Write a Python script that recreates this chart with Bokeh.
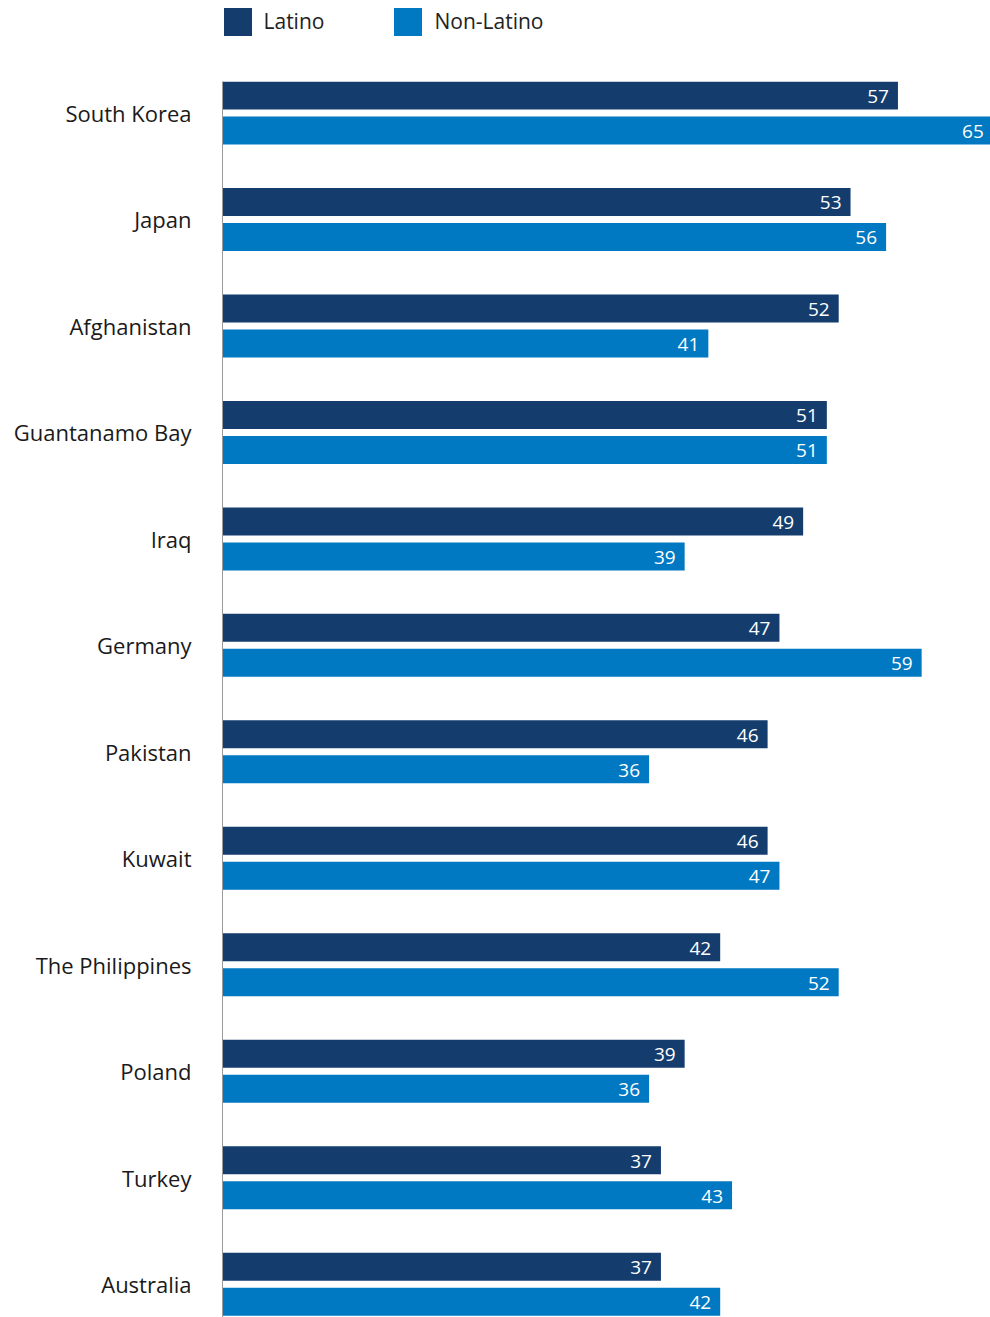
from bokeh.plotting import figure
from bokeh.models import ColumnDataSource, Range1d, Legend, LegendItem
from bokeh.layouts import column
from bokeh.transform import dodge
from bokeh.embed import file_html
from bokeh.resources import INLINE

countries = ["South Korea", "Japan", "Afghanistan", "Guantanamo Bay", "Iraq", "Germany",
             "Pakistan", "Kuwait", "The Philippines", "Poland", "Turkey", "Australia"]
latino = [57, 53, 52, 51, 49, 47, 46, 46, 42, 39, 37, 37]
non_latino = [65, 56, 41, 51, 39, 59, 36, 47, 52, 36, 43, 42]
series = ["Latino", "Non-Latino"]

LAT_COLOR = "#143d6e"
NON_COLOR = "#0079c2"
FONT = "Open Sans"

TOP = 81
H = 1317
unit = 106.47

idx = list(range(len(countries)))
src = ColumnDataSource(dict(y=idx, country=countries, latino=latino, non=non_latino,
                            latino_s=[str(v) for v in latino], non_s=[str(v) for v in non_latino]))

p = figure(width=990, height=H - TOP, output_backend="svg", toolbar_location=None,
           x_range=Range1d(0, (990 - 222) / 11.85),
           y_range=Range1d((H - TOP - 31.5) / unit, -31.5 / unit),
           x_axis_location=None, min_border_left=222, min_border_right=0,
           min_border_bottom=0, min_border_top=0, outline_line_color=None)
p.xgrid.visible = False
p.ygrid.visible = False

bh = 28 / unit
off = 17.5 / unit
p.hbar(y=dodge("y", -off, range=p.y_range), right="latino", left=0, height=bh,
       color=LAT_COLOR, line_color=None, source=src)
p.hbar(y=dodge("y", off, range=p.y_range), right="non", left=0, height=bh,
       color=NON_COLOR, line_color=None, source=src)

p.text(x="latino", y=dodge("y", -off, range=p.y_range), text="latino_s", source=src,
       text_align="right", text_baseline="middle", x_offset=-9, y_offset=1,
       text_color="white", text_font_size="19px", text_font={"value": FONT})
p.text(x="non", y=dodge("y", off, range=p.y_range), text="non_s", source=src,
       text_align="right", text_baseline="middle", x_offset=-9, y_offset=1,
       text_color="white", text_font_size="19px", text_font={"value": FONT})

ax = p.yaxis[0]
ax.ticker = idx
ax.major_label_overrides = {i: c for i, c in zip(idx, countries)}
ax.major_tick_line_color = None
ax.minor_tick_line_color = None
ax.axis_line_color = "#9a9a9a"
ax.axis_line_width = 1
ax.major_label_text_font = FONT
ax.major_label_text_font_size = "22px"
ax.major_label_text_color = "#1a1a1a"
ax.major_label_standoff = 25

# legend strip on top
lg = figure(width=990, height=TOP, output_backend="svg", toolbar_location=None,
            x_range=Range1d(0, 1), y_range=Range1d(0, 1),
            x_axis_location=None, y_axis_location=None, min_border=0,
            outline_line_color=None)
lg.xgrid.visible = False
lg.ygrid.visible = False
hidden = ColumnDataSource(dict(y=[-10], right=[0]))
d1 = lg.hbar(y="y", right="right", height=1, color=LAT_COLOR, line_color=None, source=hidden)
d2 = lg.hbar(y="y", right="right", height=1, color=NON_COLOR, line_color=None, source=hidden)
legend = Legend(items=[LegendItem(label=series[0], renderers=[d1]),
                       LegendItem(label=series[1], renderers=[d2])],
                orientation="horizontal", location=(-2.5, TOP - 38.5),
                glyph_width=35, glyph_height=35, label_text_font=FONT,
                label_text_font_size="21px", label_text_color="#222222",
                label_standoff=9, spacing=66, padding=0, margin=0,
                border_line_color=None, background_fill_alpha=0)
lg.add_layout(legend)

layout = column(lg, p, spacing=0)
open("out.html", "w").write(file_html(layout, INLINE))
